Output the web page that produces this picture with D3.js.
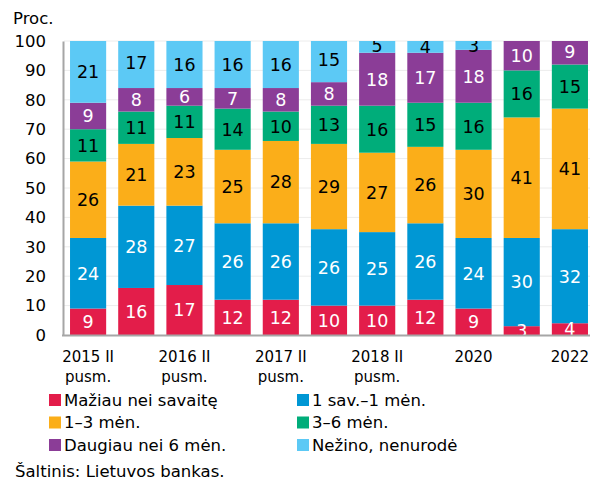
<!DOCTYPE html>
<html lang="lt">
<head>
<meta charset="UTF-8">
<script src="https://cdn.jsdelivr.net/npm/d3@7"></script>
<style>
  body { margin: 0; background: #fff; }
  text { font-family: "DejaVu Sans", Verdana, sans-serif; }
</style>
</head>
<body>
<script>
  // periods (half-years), only some are labelled
  const periods = ["2015 II", "2016 I", "2016 II", "2017 I", "2017 II", "2018 I", "2018 II", "2019", "2020", "2021", "2022"];
  const tickLabels = [["2015 II", "pusm."], [], ["2016 II", "pusm."], [], ["2017 II", "pusm."], [], ["2018 II", "pusm."], [], ["2020"], [], ["2022"]];

  const seriesNames = ["Mažiau nei savaitę", "1 sav.\u20131 mėn.", "1\u20133 mėn.", "3\u20136 mėn.", "Daugiau nei 6 mėn.", "Nežino, nenurodė"];
  const colors = ["#e31d4a", "#0097d4", "#fbae19", "#00ad7a", "#8b3d97", "#5cc9f5"];
  const labelColors = ["#fff", "#fff", "#000", "#000", "#fff", "#000"];

  const lessWeek = [9, 16, 17, 12, 12, 10, 10, 12, 9, 3, 4];
  const weekMonth = [24, 28, 27, 26, 26, 26, 25, 26, 24, 30, 32];
  const oneThree = [26, 21, 23, 25, 28, 29, 27, 26, 30, 41, 41];
  const threeSix = [11, 11, 11, 14, 10, 13, 16, 15, 16, 16, 15];
  const moreSix = [9, 8, 6, 7, 8, 8, 18, 17, 18, 10, 9];
  const unknown = [21, 17, 16, 16, 16, 15, 5, 4, 3, 0, 0];

  const yTicks = [0, 10, 20, 30, 40, 50, 60, 70, 80, 90, 100];

  const series = [lessWeek, weekMonth, oneThree, threeSix, moreSix, unknown];
  const rows = periods.map((p, i) => {
    const r = { period: p };
    series.forEach((s, k) => r[k] = s[i]);
    return r;
  });

  const width = 590, height = 482;
  const margin = { top: 41, right: -4, bottom: 147, left: 64 };

  const svg = d3.select("body").append("svg")
    .attr("width", width)
    .attr("height", height);

  const x = d3.scaleBand()
    .domain(periods)
    .range([margin.left, width - margin.right])
    .paddingInner(0.25)
    .paddingOuter(0.125);

  const y = d3.scaleLinear()
    .domain([0, 100])
    .range([height - margin.bottom, margin.top]);

  const stack = d3.stack().keys(d3.range(series.length));
  const stacked = stack(rows);

  svg.append("clipPath").attr("id", "plot")
    .append("rect")
    .attr("x", margin.left)
    .attr("y", y(100))
    .attr("width", width - margin.left)
    .attr("height", y(0) - y(100));

  // grid
  svg.append("g")
    .selectAll("line")
    .data(yTicks.slice(1))
    .join("line")
    .attr("x1", margin.left)
    .attr("x2", width)
    .attr("y1", d => y(d))
    .attr("y2", d => y(d))
    .attr("stroke", "#ececec")
    .attr("stroke-width", 1);

  const plot = svg.append("g").attr("clip-path", "url(#plot)");

  stacked.forEach((layer, k) => {
    plot.append("g")
      .attr("fill", colors[k])
      .selectAll("rect")
      .data(layer)
      .join("rect")
      .attr("x", d => x(d.data.period))
      .attr("width", x.bandwidth())
      .attr("y", d => y(d[1]))
      .attr("height", d => y(d[0]) - y(d[1]));
  });

  stacked.forEach((layer, k) => {
    plot.append("g")
      .selectAll("text")
      .data(layer.filter(d => d[1] - d[0] > 0))
      .join("text")
      .attr("x", d => x(d.data.period) + x.bandwidth() / 2)
      .attr("y", d => (y(d[0]) + y(d[1])) / 2)
      .attr("dy", "0.36em")
      .attr("text-anchor", "middle")
      .attr("font-size", 17.5)
      .attr("fill", labelColors[k])
      .text(d => d[1] - d[0]);
  });

  // y axis
  const yAxis = svg.append("g")
    .attr("transform", `translate(${margin.left - 1},0)`)
    .call(d3.axisLeft(y).tickValues(yTicks).tickSize(0).tickPadding(17));
  yAxis.select(".domain").attr("stroke", "#a6a6a6").attr("stroke-width", 2);
  yAxis.selectAll("text").attr("font-size", 16.5).attr("fill", "#000");

  // x axis line
  svg.append("line")
    .attr("x1", margin.left - 2)
    .attr("x2", width)
    .attr("y1", y(0) + 0.5)
    .attr("y2", y(0) + 0.5)
    .attr("stroke", "#a6a6a6")
    .attr("stroke-width", 2);

  // x labels
  const xl = svg.append("g")
    .selectAll("text")
    .data(periods)
    .join("text")
    .attr("x", d => x(d) + x.bandwidth() / 2)
    .attr("y", 362)
    .attr("text-anchor", "middle")
    .attr("font-size", 15)
    .attr("fill", "#000");
  xl.each(function (d, i) {
    const t = d3.select(this);
    tickLabels[i].forEach((line, j) => {
      t.append("tspan")
        .attr("x", x(d) + x.bandwidth() / 2)
        .attr("dy", j === 0 ? 0 : 20)
        .text(line);
    });
  });

  svg.append("text")
    .attr("x", 13)
    .attr("y", 24)
    .attr("font-size", 16.5)
    .text("Proc.");

  // legend
  const legend = svg.append("g")
    .selectAll("g")
    .data(seriesNames)
    .join("g")
    .attr("transform", (d, i) => `translate(${i % 2 === 0 ? 49 : 297},${400 + Math.floor(i / 2) * 22.5})`);
  legend.append("rect")
    .attr("x", 0)
    .attr("y", -6)
    .attr("width", 12)
    .attr("height", 12)
    .attr("fill", (d, i) => colors[i]);
  legend.append("text")
    .attr("x", 15)
    .attr("dy", "0.36em")
    .attr("font-size", 16.5)
    .text(d => d);

  svg.append("text")
    .attr("x", 15)
    .attr("y", 477)
    .attr("font-size", 16.5)
    .text("Šaltinis: Lietuvos bankas.");
</script>
</body>
</html>
